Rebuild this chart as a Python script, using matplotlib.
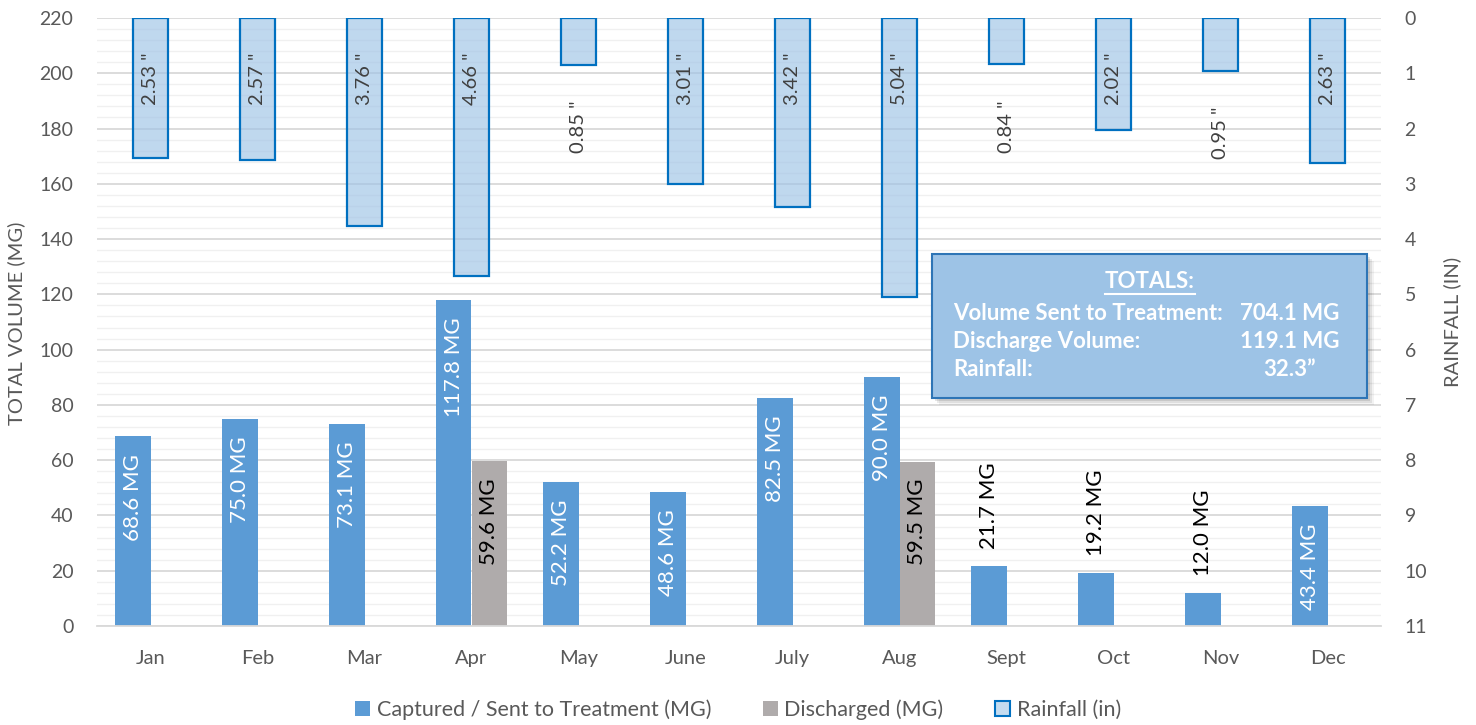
import matplotlib
matplotlib.use("Agg")
import matplotlib.pyplot as plt
import numpy as np
from matplotlib.patches import Rectangle, Patch
from matplotlib.lines import Line2D
from matplotlib.ticker import MultipleLocator

# data
months = ['Jan', 'Feb', 'Mar', 'Apr', 'May', 'June', 'July', 'Aug', 'Sept', 'Oct', 'Nov', 'Dec']
captured = [68.6, 75.0, 73.1, 117.8, 52.2, 48.6, 82.5, 90.0, 21.7, 19.2, 12.0, 43.4]
discharged = [0, 0, 0, 59.6, 0, 0, 0, 59.5, 0, 0, 0, 0]
rainfall = [2.53, 2.57, 3.76, 4.66, 0.85, 3.01, 3.42, 5.04, 0.84, 2.02, 0.95, 2.63]

totals_rows = ['Volume Sent to Treatment:', 'Discharge Volume:', 'Rainfall:']
totals_vals = ['704.1 MG', '119.1 MG', '32.3\u201d']

plt.rcParams['font.family'] = ['Lato', 'DejaVu Sans']

BLUE = '#5b9bd5'
GREY = '#afabab'
RAIN_FACE = '#9dc3e6'
RAIN_EDGE = '#0070c0'
TICK = '#595959'

fig = plt.figure(figsize=(14.76, 7.25), dpi=100)
ax = fig.add_axes([97 / 1476, 1 - 626 / 725, 1284 / 1476, 608 / 725])
ax2 = ax.twinx()

x = np.arange(len(months))
w = 0.336

ax.bar(x - w / 2, captured, w, color=BLUE, zorder=2)
ax.bar(x + w / 2, discharged, w, color=GREY, zorder=2)
ax2.bar(x, rainfall, w, facecolor=RAIN_FACE, alpha=0.65, edgecolor='none', zorder=2)
ax2.bar(x, rainfall, w, facecolor='none', edgecolor=RAIN_EDGE, linewidth=1.6, zorder=3)

ax.set_xlim(-0.5, len(months) - 0.5)
ax.set_ylim(0, 220)
ax.set_yticks(range(0, 221, 20))
ax.yaxis.set_minor_locator(MultipleLocator(4))
ax.grid(axis='y', which='major', color='#d9d9d9', linewidth=1.3)
ax.grid(axis='y', which='minor', color='#f0f0f0', linewidth=1.0)
ax.set_axisbelow(True)
ax.set_xticks(x)
ax.set_xticklabels(months)
ax.tick_params(axis='both', which='both', length=0, labelsize=14, colors=TICK)
ax.tick_params(axis='x', pad=17, labelsize=14.5)
ax.tick_params(axis='y', pad=17)

ax2.set_ylim(11, 0)
ax2.set_yticks(range(0, 12))
ax2.tick_params(axis='y', length=0, labelsize=14, colors=TICK, pad=17)

for a in (ax, ax2):
    for s in ['top', 'left', 'right', 'bottom']:
        a.spines[s].set_visible(False)
ax.spines['bottom'].set_visible(True)
ax.spines['bottom'].set_color('#d9d9d9')
ax.spines['bottom'].set_linewidth(1.3)

# data labels - captured
for xi, v in zip(x, captured):
    if v > 30:
        ax.text(xi - w / 2, v - 6.3, f'{v:.1f} MG', rotation=90, ha='center', va='top',
                color='white', fontsize=16, zorder=4)
    else:
        ax.text(xi - w / 2, v + 6.0, f'{v:.1f} MG', rotation=90, ha='center', va='bottom',
                color='black', fontsize=16, zorder=4)

# data labels - discharged
for xi, v in zip(x, discharged):
    if v > 0:
        ax.text(xi + w / 2, v - 6.3, f'{v:.1f} MG', rotation=90, ha='center', va='top',
                color='black', fontsize=16, zorder=4)

# data labels - rainfall
for xi, v in zip(x, rainfall):
    ypos = 1.58 if v > 1.5 else v + 1.6
    ax2.text(xi, ypos, f'{v:.2f} "', rotation=90, ha='center', va='bottom',
             color='#404040', fontsize=14.5, zorder=4)

# axis titles
fig.text(16 / 1476, 1 - 323 / 725, 'TOTAL VOLUME (MG)', rotation=90, ha='center', va='center',
         fontsize=14.5, color=TICK)
fig.text(1452 / 1476, 1 - 322 / 725, 'RAINFALL (IN)', rotation=90, ha='center', va='center',
         fontsize=14.5, color=TICK)

# totals box with soft shadow
bx0, by0 = (932 - 97) / 1284, (626 - 398) / 608
bw, bh = (1367 - 932) / 1284, (398 - 254) / 608
for k, al in [(3, 0.10), (5, 0.08), (7, 0.05)]:
    ax2.add_patch(Rectangle((bx0 + k / 1284, by0 - k / 608), bw, bh, transform=ax2.transAxes,
                            facecolor='black', alpha=al, edgecolor='none', zorder=8))
ax2.add_patch(Rectangle((bx0, by0), bw, bh, transform=ax2.transAxes,
                        facecolor=RAIN_FACE, edgecolor='#2e75b6', linewidth=1.5, zorder=9))

head = ax2.text((1150 - 97) / 1284, (626 - 282) / 608, 'TOTALS:', transform=ax2.transAxes,
                ha='center', va='center', color='white', fontsize=16, fontweight='bold', zorder=10)
row_y = [313, 341, 370]
for lab, val, yp in zip(totals_rows, totals_vals, row_y):
    ax2.text((953 - 97) / 1284, (626 - yp) / 608, lab, transform=ax2.transAxes,
             ha='left', va='center', color='white', fontsize=16, fontweight='bold', zorder=10)
    ax2.text((1290 - 97) / 1284, (626 - yp) / 608, val, transform=ax2.transAxes,
             ha='center', va='center', color='white', fontsize=16, fontweight='bold', zorder=10)

# underline the header
fig.canvas.draw()
bb = head.get_window_extent(renderer=fig.canvas.get_renderer())
inv = ax2.transAxes.inverted()
(ux0, uy), (ux1, _) = inv.transform([(bb.x0, bb.y0 - 1), (bb.x1, bb.y0 - 1)])
ax2.add_line(Line2D([ux0, ux1], [uy, uy], transform=ax2.transAxes, color='white',
                    linewidth=1.5, zorder=10))

# legend
handles = [Patch(facecolor=BLUE, edgecolor='none'),
           Patch(facecolor=GREY, edgecolor='none'),
           Patch(facecolor='#c4dcf0', edgecolor=RAIN_EDGE, linewidth=1.5)]
labels = ['Captured / Sent to Treatment (MG)', 'Discharged (MG)', 'Rainfall (in)']
fig.legend(handles, labels, loc='center', bbox_to_anchor=(0.5, 1 - 710 / 725), ncol=3,
           frameon=False, fontsize=15.5, handlelength=0.7, handleheight=0.7,
           handletextpad=0.3, columnspacing=2.4, labelcolor=TICK)

fig.savefig('out.png', dpi=100)
